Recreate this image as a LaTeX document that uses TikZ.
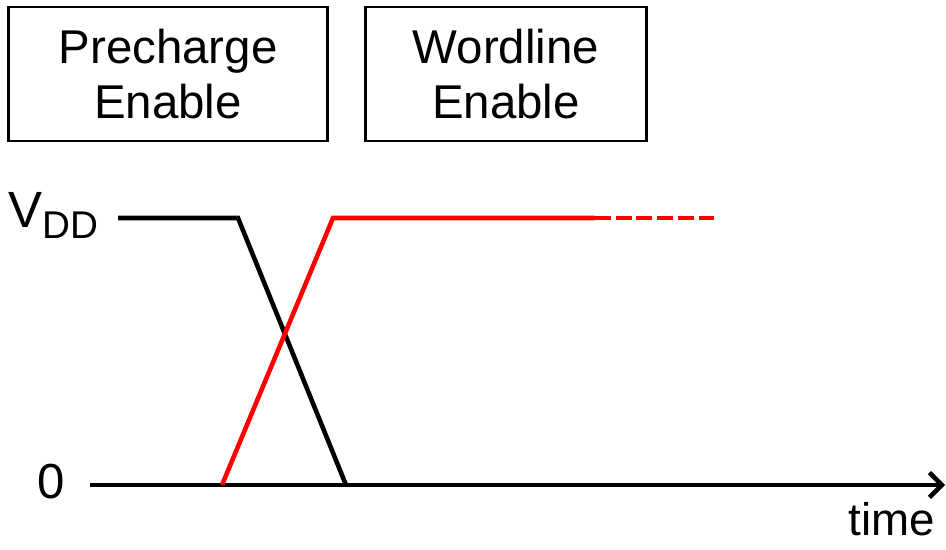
\documentclass[tikz,border=0pt]{standalone}
\usepackage{fontspec}
\setmainfont{Liberation Sans}
\usetikzlibrary{arrows.meta,positioning}

\definecolor{wlred}{RGB}{255,0,0}
\tikzset{
  enablebox/.style={draw, line width=1.2pt, align=center, minimum height=2.68cm,
    font=\fontsize{27}{31}\selectfont},
  wave/.style={line width=2.6pt, line join=miter},
  axislabel/.style={font=\fontsize{26}{30}\selectfont, inner sep=0pt}
}

\begin{document}
\begin{tikzpicture}[x=0.02cm, y=-0.02cm]
    \useasboundingbox (0,0) rectangle (946,550);

    % Enable signals
    \node[enablebox, minimum width=6.38cm] (pre) at (168,74) {Precharge\\Enable};
    \node[enablebox, minimum width=5.62cm] (wl) at (506,74) {Wordline\\Enable};

    % Axis
    \coordinate (origin) at (90,485);
    \coordinate (tend) at (945,485);
    \draw[wave, -{Straight Barb[length=7pt, width=14pt, line width=2.6pt]}] (origin) -- (tend);
    \node[axislabel, anchor=base, font=\fontsize{28}{30}\selectfont] (zero) at (51,498) {0};
    \node[axislabel, anchor=base] (time) at (892,535) {time};
    \node[axislabel, anchor=base west, font=\fontsize{29}{30}\selectfont] (vdd) at (8,228)
        {V{\fontsize{22}{22}\selectfont\raisebox{-6pt}{DD}}};

    % Precharge falls
    \draw[wave] (118,218) -- (238,218) -- (346,485);

    % Wordline rises
    \draw[wave, wlred] (222,485) -- (333,218) -- (595,218);
    \draw[wave, wlred, dash pattern=on 9pt off 2.8pt] (595,218) -- (718,218);
\end{tikzpicture}
\end{document}
